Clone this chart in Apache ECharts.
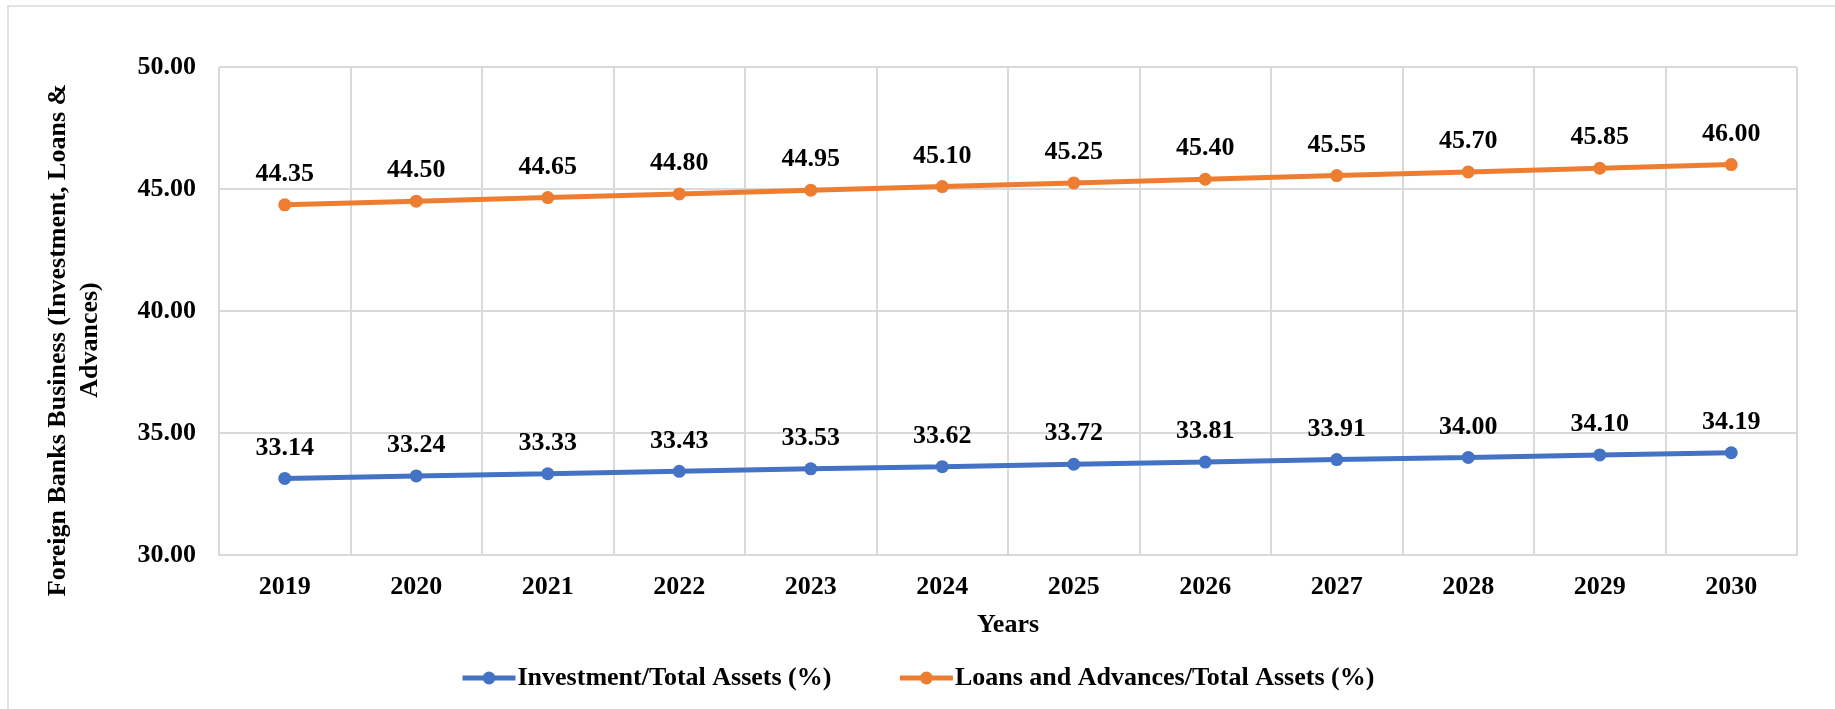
<!DOCTYPE html>
<html>
<head>
<meta charset="utf-8">
<title>Foreign Banks Business</title>
<script src="https://cdn.jsdelivr.net/npm/echarts@6/dist/echarts.min.js"></script>
<style>
  html, body { margin: 0; padding: 0; background: #fff; }
  #chart { width: 1835px; height: 709px; }
</style>
</head>
<body>
<div id="chart"></div>
<script>
  var years = ['2019', '2020', '2021', '2022', '2023', '2024', '2025', '2026', '2027', '2028', '2029', '2030']
  var investment = [33.14, 33.24, 33.33, 33.43, 33.53, 33.62, 33.72, 33.81, 33.91, 34.00, 34.10, 34.19]
  var loans = [44.35, 44.50, 44.65, 44.80, 44.95, 45.10, 45.25, 45.40, 45.55, 45.70, 45.85, 46.00]

  var font = '"Liberation Serif", "Times New Roman", serif'
  var grey = '#d9d9d9'

  var chart = echarts.init(document.getElementById('chart'))

  function lineSeries(name, color, data) {
    return {
      name: name,
      type: 'line',
      data: data,
      symbol: 'circle',
      symbolSize: 13,
      lineStyle: { width: 5, color: color },
      itemStyle: { color: color },
      label: {
        show: true,
        position: 'top',
        distance: 11,
        color: '#000',
        fontFamily: font,
        fontWeight: 'bold',
        fontSize: 26,
        formatter: function (p) { return p.value.toFixed(2) }
      }
    }
  }

  // y axis title, two lines like the original
  function yTitle(x, txt) {
    return {
      type: 'text',
      x: x,
      y: 340,
      rotation: Math.PI / 2,
      style: {
        text: txt,
        fontFamily: font,
        fontWeight: 'bold',
        fontSize: 26,
        fill: '#000',
        align: 'center',
        verticalAlign: 'middle'
      }
    }
  }

  chart.setOption({
    backgroundColor: '#fff',
    animation: false,
    textStyle: { fontFamily: font },
    graphic: [
      {
        type: 'rect',
        shape: { x: 8, y: 6, width: 1840, height: 720 },
        style: { fill: 'none', stroke: grey, lineWidth: 1.5 },
        silent: true
      },
      yTitle(58, 'Foreign Banks Business (Investment, Loans &'),
      yTitle(90, 'Advances)')
    ],
    grid: {
      left: 219,
      right: 38,
      top: 67,
      bottom: 154
    },
    legend: {
      left: 455,
      top: 660,
      itemWidth: 53,
      itemHeight: 16,
      itemGap: 66,
      lineStyle: { width: 5 },
      textStyle: {
        fontFamily: font,
        fontWeight: 'bold',
        fontSize: 26,
        color: '#000',
        padding: [0, 0, 0, -3]
      },
      data: ['Investment/Total Assets (%)', 'Loans and Advances/Total Assets (%)']
    },
    xAxis: {
      type: 'category',
      data: years,
      boundaryGap: true,
      name: 'Years',
      nameLocation: 'middle',
      nameGap: 57,
      nameTextStyle: { fontFamily: font, fontWeight: 'bold', fontSize: 26, color: '#000' },
      axisLine: { lineStyle: { color: grey, width: 2 } },
      axisTick: { show: false },
      axisLabel: { margin: 19, fontFamily: font, fontWeight: 'bold', fontSize: 26, color: '#000' },
      splitLine: { show: true, lineStyle: { color: grey, width: 2 } }
    },
    yAxis: {
      type: 'value',
      min: 30,
      max: 50,
      interval: 5,
      axisLine: { show: false },
      axisTick: { show: false },
      axisLabel: {
        margin: 23,
        fontFamily: font,
        fontWeight: 'bold',
        fontSize: 26,
        color: '#000',
        formatter: function (v) { return v.toFixed(2) }
      },
      splitLine: { lineStyle: { color: grey, width: 2 } }
    },
    series: [
      lineSeries('Investment/Total Assets (%)', '#4472C4', investment),
      lineSeries('Loans and Advances/Total Assets (%)', '#ED7D31', loans)
    ]
  })
</script>
</body>
</html>
